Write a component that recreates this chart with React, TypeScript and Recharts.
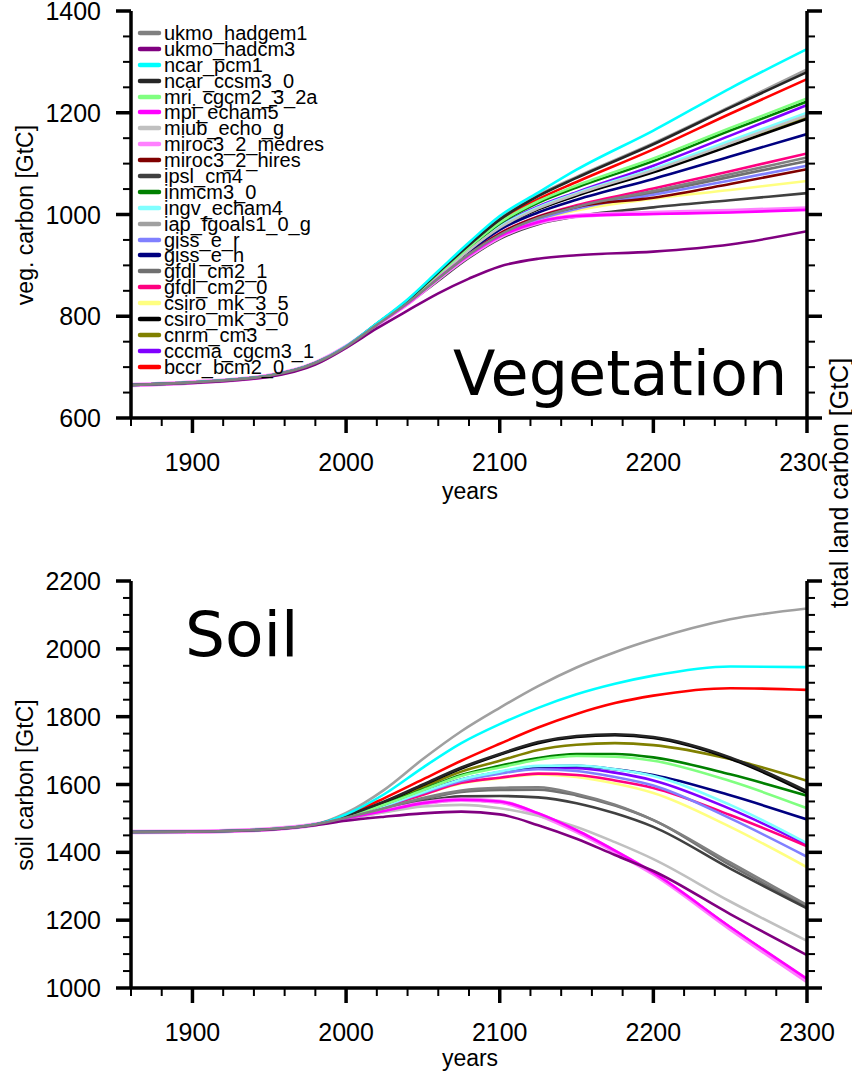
import React from "react";
import { LineChart, Line, XAxis, YAxis, Legend } from "recharts";

// model names, legend order
const models = [
  "ukmo_hadgem1", "ukmo_hadcm3", "ncar_pcm1", "ncar_ccsm3_0", "mri_cgcm2_3_2a",
  "mpi_echam5", "miub_echo_g", "miroc3_2_medres", "miroc3_2_hires", "ipsl_cm4",
  "inmcm3_0", "ingv_echam4", "iap_fgoals1_0_g", "giss_e_r", "giss_e_h",
  "gfdl_cm2_1", "gfdl_cm2_0", "csiro_mk_3_5", "csiro_mk_3_0", "cnrm_cm3",
  "cccma_cgcm3_1", "bccr_bcm2_0",
];

const lineColors = [
  "#808080", "#800080", "#00ffff", "#262626", "#80ff80",
  "#ff00ff", "#c0c0c0", "#ff80ff", "#800000", "#404040",
  "#008000", "#80ffff", "#a0a0a0", "#8080ff", "#000080",
  "#707070", "#ff0080", "#ffff80", "#000000", "#808000",
  "#8000ff", "#ff0000",
];

const vegYears = [1860, 1900, 1950, 1980, 2000, 2020, 2040, 2060, 2080, 2100, 2125, 2150, 2200, 2250, 2300];
const soilYears = [1860, 1900, 1950, 1980, 2000, 2025, 2050, 2075, 2100, 2125, 2150, 2175, 2200, 2250, 2300];

// veg. carbon [GtC], one row per model (same order as models)
const vegValues = [
  [665, 670, 683, 708, 740, 783, 826, 874, 922, 960, 993, 1015, 1046, 1079, 1112],
  [665, 669, 681, 705, 738, 776, 811, 845, 874, 898, 913, 920, 927, 941, 967],
  [665, 670, 683, 708, 741, 786, 833, 889, 945, 997, 1043, 1088, 1165, 1248, 1325],
  [665, 670, 683, 708, 740, 785, 831, 886, 940, 990, 1036, 1072, 1138, 1210, 1280],
  [665, 670, 683, 708, 740, 785, 830, 883, 936, 984, 1026, 1057, 1110, 1170, 1228],
  [665, 670, 683, 708, 740, 783, 825, 875, 920, 957, 985, 997, 1001, 1004, 1009],
  [665, 670, 683, 708, 740, 784, 828, 879, 930, 974, 1012, 1040, 1087, 1140, 1195],
  [665, 670, 683, 708, 740, 783, 825, 874, 919, 956, 984, 997, 1003, 1007, 1012],
  [665, 670, 683, 708, 740, 783, 826, 874, 922, 962, 995, 1015, 1033, 1060, 1089],
  [665, 670, 683, 708, 740, 783, 824, 870, 915, 952, 981, 996, 1014, 1028, 1042],
  [665, 670, 683, 708, 740, 785, 829, 882, 934, 982, 1023, 1053, 1105, 1165, 1222],
  [665, 670, 683, 708, 740, 784, 828, 879, 931, 976, 1014, 1042, 1090, 1145, 1200],
  [665, 670, 683, 708, 740, 785, 831, 887, 942, 993, 1038, 1074, 1140, 1212, 1285],
  [665, 670, 683, 708, 740, 783, 825, 873, 920, 959, 990, 1011, 1039, 1067, 1096],
  [665, 670, 683, 708, 740, 784, 827, 876, 927, 970, 1004, 1029, 1070, 1114, 1158],
  [665, 670, 683, 708, 740, 783, 825, 873, 921, 960, 992, 1013, 1043, 1074, 1105],
  [665, 670, 683, 708, 740, 783, 826, 874, 923, 963, 996, 1018, 1051, 1085, 1120],
  [665, 670, 683, 708, 740, 783, 825, 872, 919, 958, 989, 1008, 1031, 1048, 1066],
  [665, 670, 683, 708, 740, 784, 827, 878, 929, 973, 1010, 1037, 1083, 1135, 1188],
  [665, 670, 683, 708, 740, 784, 827, 878, 930, 974, 1011, 1038, 1085, 1138, 1192],
  [665, 670, 683, 708, 740, 784, 828, 880, 932, 978, 1016, 1044, 1096, 1155, 1215],
  [665, 670, 683, 708, 740, 785, 830, 884, 938, 988, 1030, 1064, 1128, 1198, 1266],
];

// soil carbon [GtC]
const soilValues = [
  [1460, 1461, 1468, 1482, 1502, 1530, 1560, 1582, 1590, 1592, 1572, 1540, 1495, 1370, 1245],
  [1460, 1461, 1467, 1480, 1493, 1505, 1515, 1520, 1512, 1480, 1440, 1392, 1345, 1218, 1097],
  [1460, 1461, 1468, 1482, 1512, 1572, 1650, 1722, 1778, 1826, 1866, 1897, 1921, 1948, 1946],
  [1460, 1461, 1468, 1482, 1508, 1550, 1600, 1650, 1690, 1725, 1743, 1748, 1740, 1680, 1580],
  [1460, 1461, 1468, 1482, 1505, 1541, 1583, 1625, 1650, 1673, 1684, 1682, 1670, 1610, 1530],
  [1460, 1461, 1468, 1482, 1500, 1522, 1545, 1555, 1550, 1515, 1465, 1405, 1340, 1180, 1027],
  [1460, 1461, 1468, 1482, 1498, 1518, 1535, 1540, 1530, 1508, 1475, 1430, 1380, 1255, 1139],
  [1460, 1461, 1468, 1482, 1500, 1522, 1545, 1555, 1549, 1512, 1462, 1402, 1337, 1175, 1020],
  [1460, 1461, 1468, 1482, 1499, 1521, 1544, 1554, 1548, 1512, 1462, 1403, 1338, 1178, 1025],
  [1460, 1461, 1468, 1482, 1500, 1525, 1550, 1565, 1566, 1562, 1545, 1515, 1475, 1352, 1235],
  [1460, 1461, 1468, 1482, 1505, 1542, 1585, 1628, 1655, 1678, 1690, 1690, 1680, 1630, 1567],
  [1460, 1461, 1468, 1482, 1504, 1538, 1577, 1615, 1638, 1655, 1656, 1645, 1625, 1540, 1427],
  [1460, 1461, 1468, 1482, 1516, 1585, 1675, 1757, 1826, 1890, 1945, 1990, 2028, 2087, 2119],
  [1460, 1461, 1468, 1482, 1504, 1537, 1575, 1610, 1632, 1645, 1640, 1622, 1597, 1500, 1387],
  [1460, 1461, 1468, 1482, 1504, 1538, 1578, 1615, 1637, 1652, 1655, 1645, 1628, 1568, 1497],
  [1460, 1461, 1468, 1482, 1501, 1528, 1556, 1578, 1584, 1585, 1568, 1538, 1495, 1362, 1240],
  [1460, 1461, 1468, 1482, 1503, 1535, 1570, 1605, 1620, 1632, 1628, 1612, 1590, 1510, 1418],
  [1460, 1461, 1468, 1482, 1503, 1535, 1570, 1603, 1618, 1630, 1622, 1603, 1575, 1475, 1356],
  [1460, 1461, 1468, 1482, 1507, 1548, 1598, 1647, 1688, 1722, 1740, 1745, 1737, 1676, 1575],
  [1460, 1461, 1468, 1482, 1506, 1545, 1592, 1638, 1670, 1702, 1717, 1722, 1716, 1675, 1611],
  [1460, 1461, 1468, 1482, 1504, 1537, 1575, 1612, 1634, 1648, 1648, 1635, 1612, 1528, 1422],
  [1460, 1461, 1468, 1482, 1510, 1560, 1615, 1670, 1720, 1768, 1808, 1840, 1862, 1884, 1879],
];

const yearTicks = [1860, 1880, 1900, 1920, 1940, 1960, 1980, 2000, 2020, 2040, 2060, 2080, 2100, 2120, 2140, 2160, 2180, 2200, 2220, 2240, 2260, 2280, 2300];
const vegTicks = [600, 650, 700, 750, 800, 850, 900, 950, 1000, 1050, 1100, 1150, 1200, 1250, 1300, 1350, 1400];
const soilTicks = [1000, 1050, 1100, 1150, 1200, 1250, 1300, 1350, 1400, 1450, 1500, 1550, 1600, 1650, 1700, 1750, 1800, 1850, 1900, 1950, 2000, 2050, 2100, 2150, 2200];

const AXIS_FONT = "'Liberation Sans', Arial, Helvetica, sans-serif";
const BIG_FONT = "'DejaVu Sans', Verdana, sans-serif";
const TICK_SIZE = 25;

const buildRows = (years: number[], values: number[][]) =>
  years.map((year, i) => {
    const row: Record<string, number> = { year };
    models.forEach((m, k) => {
      row[m] = values[k][i];
    });
    return row;
  });

const vegData = buildRows(vegYears, vegValues);
const soilData = buildRows(soilYears, soilValues);

function BottomTick(props: any) {
  const { x, y, payload } = props;
  const major = payload.value % 100 === 0;
  return (
    <g>
      <line x1={x} x2={x} y1={y} y2={y + (major ? 15 : 8)} stroke="#000" strokeWidth={major ? 3.5 : 2} />
      {major && (
        <text x={x} y={y + 53} textAnchor="middle" fontSize={TICK_SIZE} fontFamily={AXIS_FONT} fill="#000">
          {payload.value}
        </text>
      )}
    </g>
  );
}

function LeftTick(props: any) {
  const { x, y, payload } = props;
  const major = payload.value % 200 === 0;
  return (
    <g>
      <line x1={x} x2={x - (major ? 15 : 8)} y1={y} y2={y} stroke="#000" strokeWidth={major ? 3.5 : 2} />
      {major && (
        <text x={x - 30} y={y} dy="0.36em" textAnchor="end" fontSize={TICK_SIZE} fontFamily={AXIS_FONT} fill="#000">
          {payload.value}
        </text>
      )}
    </g>
  );
}

function RightTick(props: any) {
  const { x, y, payload } = props;
  const major = payload.value % 200 === 0;
  return <line x1={x} x2={x + (major ? 15 : 8)} y1={y} y2={y} stroke="#000" strokeWidth={major ? 3.5 : 2} />;
}

function LegendBox() {
  return (
    <div style={{ fontFamily: AXIS_FONT, fontSize: 20, color: "#000" }}>
      {models.map((m, i) => (
        <div key={m} style={{ display: "flex", alignItems: "center", height: 15.9, whiteSpace: "nowrap" }}>
          <svg width={27} height={10} style={{ flex: "none" }}>
            <line x1={3} x2={22} y1={5} y2={5} stroke={lineColors[i]} strokeWidth={4.5} strokeLinecap="round" />
          </svg>
          <span style={{ lineHeight: 1 }}>{m}</span>
        </div>
      ))}
    </div>
  );
}

type PanelProps = {
  data: Record<string, number>[];
  height: number;
  top: number;
  xAxisHeight: number;
  domain: [number, number];
  ticks: number[];
  showLegend?: boolean;
};

function Panel({ data, height, top, xAxisHeight, domain, ticks, showLegend }: PanelProps) {
  const axisLine = { stroke: "#000", strokeWidth: 3.5 };
  return (
    <LineChart width={852} height={height} data={data} margin={{ top, right: 0, bottom: 0, left: 0 }}>
      <XAxis
        dataKey="year"
        type="number"
        domain={[1860, 2300]}
        ticks={yearTicks}
        interval={0}
        height={xAxisHeight}
        tickSize={0}
        tickMargin={0}
        tickLine={false}
        axisLine={axisLine}
        tick={(p: any) => <BottomTick {...p} />}
        allowDataOverflow
      />
      <XAxis
        xAxisId="top"
        orientation="top"
        dataKey="year"
        type="number"
        domain={[1860, 2300]}
        height={0}
        tick={false}
        tickLine={false}
        axisLine={axisLine}
        allowDataOverflow
      />
      <YAxis
        type="number"
        domain={domain}
        ticks={ticks}
        interval={0}
        width={131}
        tickSize={0}
        tickMargin={0}
        tickLine={false}
        axisLine={axisLine}
        tick={(p: any) => <LeftTick {...p} />}
        allowDataOverflow
      />
      <YAxis
        yAxisId="right"
        orientation="right"
        type="number"
        domain={domain}
        ticks={ticks}
        interval={0}
        width={45}
        tickSize={0}
        tickMargin={0}
        tickLine={false}
        axisLine={axisLine}
        tick={(p: any) => <RightTick {...p} />}
        allowDataOverflow
      />
      {showLegend && (
        <Legend
          layout="vertical"
          align="center"
          verticalAlign="middle"
          wrapperStyle={{ left: 137, top: 25, width: 240 }}
          content={() => <LegendBox />}
        />
      )}
      {models
        .map((m, i) => (
          <Line
            key={m}
            type="monotone"
            dataKey={m}
            stroke={lineColors[i]}
            strokeWidth={m === "miroc3_2_medres" ? 4.5 : 2.6}
            dot={false}
            isAnimationActive={false}
          />
        ))
        .reverse()}
    </LineChart>
  );
}

export default function App() {
  return (
    <div style={{ position: "absolute", left: 0, top: 0, width: 852, height: 1072, background: "#fff" }}>
      <div style={{ position: "absolute", left: 0, top: 0 }}>
        <Panel data={vegData} height={520} top={11} xAxisHeight={102} domain={[600, 1400]} ticks={vegTicks} showLegend />
      </div>
      <div style={{ position: "absolute", left: 0, top: 540 }}>
        <Panel data={soilData} height={532} top={41} xAxisHeight={84} domain={[1000, 2200]} ticks={soilTicks} />
      </div>
      <svg width={852} height={1072} style={{ position: "absolute", left: 0, top: 0, pointerEvents: "none" }}>
        <text x={453} y={395} fontSize={62} fontFamily={BIG_FONT} fill="#000">Vegetation</text>
        <text x={185} y={656} fontSize={63} fontFamily={BIG_FONT} fill="#000">Soil</text>
        <text transform="translate(25,215) rotate(-90)" textAnchor="middle" dy="0.36em" fontSize={23} fontFamily={AXIS_FONT}>
          veg. carbon [GtC]
        </text>
        <text transform="translate(25,785) rotate(-90)" textAnchor="middle" dy="0.36em" fontSize={23} fontFamily={AXIS_FONT}>
          soil carbon [GtC]
        </text>
        <text x={470} y={499} textAnchor="middle" fontSize={23} fontFamily={AXIS_FONT}>years</text>
        <text x={470} y={1066} textAnchor="middle" fontSize={23} fontFamily={AXIS_FONT}>years</text>
        <rect x={827} y={345} width={25} height={275} fill="#fff" />
        <text transform="translate(839,483) rotate(-90)" textAnchor="middle" dy="0.36em" fontSize={25} fontFamily={AXIS_FONT}>
          total land carbon [GtC]
        </text>
      </svg>
    </div>
  );
}
